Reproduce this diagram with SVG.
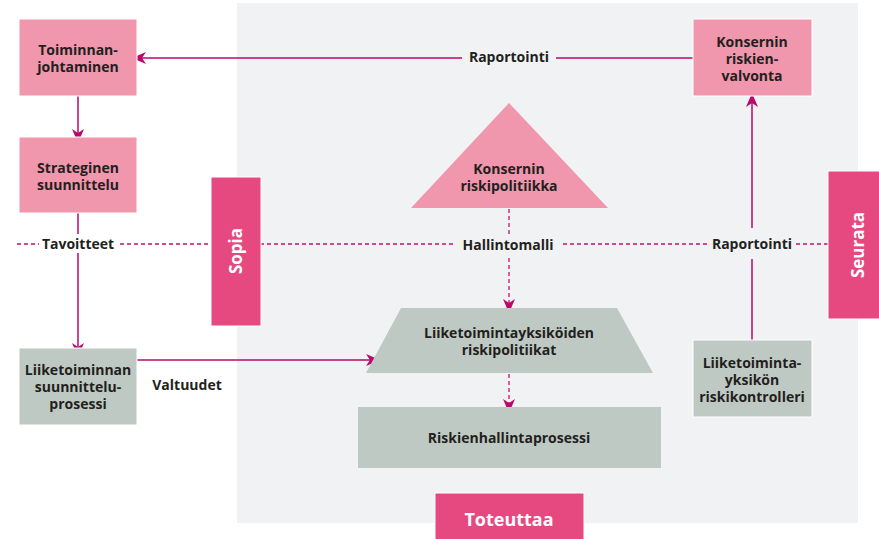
<svg xmlns="http://www.w3.org/2000/svg" width="879" height="539" viewBox="0 0 879 539">
<defs>
<style>
.t{font-family:"Open Sans",Lato,"Liberation Sans",sans-serif;font-weight:bold;font-size:14px;fill:#231f20;text-anchor:middle}
.w{font-family:"Open Sans",Lato,"Liberation Sans",sans-serif;font-weight:bold;fill:#ffffff;text-anchor:middle}
.pink{fill:#f096ad;stroke:#ffffff;stroke-width:1}
.grey{fill:#bfc9c3;stroke:#ffffff;stroke-width:1}
.tab{fill:#e5497f;stroke:#ffffff;stroke-width:1}
.ln{stroke:#b8086a;stroke-width:1.5;fill:none}
.dl{stroke:#c4106f;stroke-width:1.3;fill:none;stroke-dasharray:4 3}
</style>
<marker id="ah" markerUnits="userSpaceOnUse" markerWidth="14" markerHeight="12" viewBox="0 0 14 12" refX="13" refY="6" orient="auto">
<path d="M0,0 L14,6 L0,12 L4,6 z" fill="#b8086a"/>
</marker>
</defs>
<rect x="237" y="3" width="621" height="520" fill="#f1f2f4"/>

<g id="connectors">
<line class="dl" x1="17" y1="244" x2="39" y2="244"/>
<line class="dl" x1="120" y1="244" x2="453" y2="244"/>
<line class="dl" x1="563" y1="244" x2="707" y2="244"/>
<line class="dl" x1="796" y1="244" x2="828" y2="244"/>
<line class="ln" x1="693" y1="58" x2="556" y2="58"/>
<line class="ln" x1="462" y1="58" x2="133" y2="58" marker-end="url(#ah)"/>
<line class="ln" x1="78" y1="96" x2="78" y2="142" marker-end="url(#ah)"/>
<line class="ln" x1="78" y1="213" x2="78" y2="234"/>
<line class="ln" x1="78" y1="253" x2="78" y2="356" marker-end="url(#ah)"/>
<line class="ln" x1="137" y1="360" x2="379" y2="360" marker-end="url(#ah)"/>
<line class="ln" x1="752" y1="340" x2="752" y2="259"/>
<line class="ln" x1="752" y1="228" x2="752" y2="94" marker-end="url(#ah)"/>
<line class="dl" x1="509" y1="209" x2="509" y2="234"/>
<line class="dl" x1="509" y1="258" x2="509" y2="312" marker-end="url(#ah)"/>
<line class="dl" x1="509" y1="374" x2="509" y2="412" marker-end="url(#ah)"/>
<text class="t" x="78" y="249">Tavoitteet</text>
<text class="t" x="508" y="250">Hallintomalli</text>
<text class="t" x="752" y="249">Raportointi</text>
<text class="t" x="509" y="62">Raportointi</text>
<text class="t" x="187" y="390">Valtuudet</text>
</g>

<g id="toiminnan">
<rect class="pink" x="19" y="19" width="118" height="77"/>
<text class="t" x="78" y="55">Toiminnan-</text>
<text class="t" x="78" y="72">johtaminen</text>
</g>
<g id="strateginen">
<rect class="pink" x="19" y="137" width="118" height="76"/>
<text class="t" x="78" y="173">Strateginen</text>
<text class="t" x="78" y="190">suunnittelu</text>
</g>
<g id="liiketoiminnan">
<rect class="grey" x="19" y="348" width="118" height="77"/>
<text class="t" x="78" y="375">Liiketoiminnan</text>
<text class="t" x="78" y="392">suunnittelu-</text>
<text class="t" x="78" y="409">prosessi</text>
</g>
<g id="sopia">
<rect class="tab" x="211" y="177" width="50" height="149"/>
<text class="w" font-size="17" transform="translate(242,251) rotate(-90)">Sopia</text>
</g>
<g id="riskipolitiikka">
<polygon points="509,103 608,208 411,208" fill="#f096ad"/>
<text class="t" x="509" y="174">Konsernin</text>
<text class="t" x="509" y="191">riskipolitiikka</text>
</g>
<g id="yksikoiden">
<polygon points="401,308 617,308 653,373 366,373" fill="#bfc9c3"/>
<text class="t" x="509" y="338">Liiketoimintayksiköiden</text>
<text class="t" x="509" y="355">riskipolitiikat</text>
</g>
<g id="prosessi">
<rect x="358" y="407" width="303" height="61" fill="#bfc9c3"/>
<text class="t" x="509" y="443">Riskienhallintaprosessi</text>
</g>
<g id="toteuttaa">
<rect class="tab" x="435" y="493" width="149" height="50"/>
<text class="w" font-size="18" x="509" y="526">Toteuttaa</text>
</g>
<g id="valvonta">
<rect class="pink" x="693" y="19" width="119" height="77"/>
<text class="t" x="752" y="47">Konsernin</text>
<text class="t" x="752" y="64">riskien-</text>
<text class="t" x="752" y="81">valvonta</text>
</g>
<g id="kontrolleri">
<rect class="grey" x="693" y="340" width="119" height="77"/>
<text class="t" x="752" y="368">Liiketoiminta-</text>
<text class="t" x="752" y="385">yksikön</text>
<text class="t" x="752" y="402">riskikontrolleri</text>
</g>
<g id="seurata">
<rect class="tab" x="828" y="171" width="55" height="148"/>
<text class="w" font-size="17" transform="translate(864,245) rotate(-90)">Seurata</text>
</g>
</svg>
